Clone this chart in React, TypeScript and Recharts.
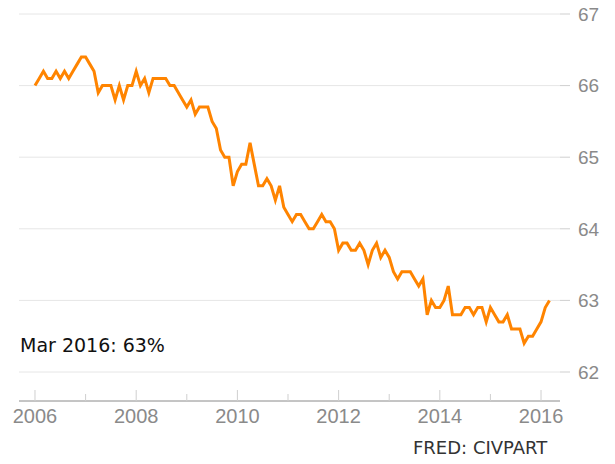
import { CartesianGrid, Line, LineChart, XAxis, YAxis, ReferenceLine } from "recharts";
import { FunctionComponent } from 'react';

// CIVPART, monthly, Jan 2006 .. Mar 2016
const startYear = 2006;
const values = [
  66.0, 66.1, 66.2, 66.1, 66.1, 66.2, 66.1, 66.2, 66.1, 66.2, 66.3, 66.4,
  66.4, 66.3, 66.2, 65.9, 66.0, 66.0, 66.0, 65.8, 66.0, 65.8, 66.0, 66.0,
  66.2, 66.0, 66.1, 65.9, 66.1, 66.1, 66.1, 66.1, 66.0, 66.0, 65.9, 65.8,
  65.7, 65.8, 65.6, 65.7, 65.7, 65.7, 65.5, 65.4, 65.1, 65.0, 65.0, 64.6,
  64.8, 64.9, 64.9, 65.2, 64.9, 64.6, 64.6, 64.7, 64.6, 64.4, 64.6, 64.3,
  64.2, 64.1, 64.2, 64.2, 64.1, 64.0, 64.0, 64.1, 64.2, 64.1, 64.1, 64.0,
  63.7, 63.8, 63.8, 63.7, 63.7, 63.8, 63.7, 63.5, 63.7, 63.8, 63.6, 63.7,
  63.6, 63.4, 63.3, 63.4, 63.4, 63.4, 63.3, 63.2, 63.3, 62.8, 63.0, 62.9,
  62.9, 63.0, 63.2, 62.8, 62.8, 62.8, 62.9, 62.9, 62.8, 62.9, 62.9, 62.7,
  62.9, 62.8, 62.7, 62.7, 62.8, 62.6, 62.6, 62.6, 62.4, 62.5, 62.5, 62.6,
  62.7, 62.9, 63.0,
];
const yearTicks = [2006, 2007, 2008, 2009, 2010, 2011, 2012, 2013, 2014, 2015, 2016];
const valueTicks = [62, 63, 64, 65, 66, 67];

const data = values.map((v, i) => ({ date: startYear + i / 12, rate: v }));

const YearTick: FunctionComponent<any> = (props: any) => {
  const { x, y, payload } = props;
  const major = payload.value % 2 === 0;
  return (
    <g transform={`translate(${x},${y})`}>
      <line x1={0} x2={0} y1={0} y2={major ? -11 : -7} stroke="#cfcfcf" strokeWidth={1} />
      {major && (
        <text x={0} y={15} dy="0.35em" textAnchor="middle" fill="#8a8a8a"
          fontSize={20} fontFamily="'Liberation Sans Narrow', 'Liberation Sans', sans-serif">
          {payload.value}
        </text>
      )}
    </g>
  );
};

export default function App() {
  return (
    <div style={{ position: 'relative', width: 615, height: 464, margin: -8 }}>
      <LineChart width={615} height={464} data={data}
        margin={{ top: 14, right: 10, left: 19, bottom: 33 }}>
        <CartesianGrid vertical={false} stroke="#e6e6e6" horizontalValues={valueTicks} />
        <XAxis dataKey="date" type="number" domain={[2005.684, 2016.375]} ticks={yearTicks}
          tick={<YearTick />} tickLine={false} axisLine={false} tickSize={0} tickMargin={0}
          height={30} interval={0} allowDataOverflow />
        <YAxis orientation="right" domain={[61.595, 67]} ticks={valueTicks} interval={0}
          width={45} axisLine={false} tickSize={10} tickMargin={8} allowDataOverflow
          tickLine={{ stroke: '#cfcfcf' }}
          tick={{ fill: '#8a8a8a', fontSize: 19, fontFamily: "'Liberation Sans', sans-serif", textAnchor: 'start' }} />
        <ReferenceLine y={61.595} stroke="#8a8a8a" strokeWidth={1} />
        <Line type="linear" dataKey="rate" stroke="#ff8400" strokeWidth={3} dot={false}
          isAnimationActive={false} strokeLinejoin="miter" />
      </LineChart>
      <div style={{ position: 'absolute', left: 20, top: 332, fontSize: 19, color: '#111',
        fontFamily: "'DejaVu Sans', sans-serif", lineHeight: '26px', whiteSpace: 'nowrap' }}>
        Mar 2016: 63%
      </div>
      <div style={{ position: 'absolute', left: 413, top: 436, fontSize: 18, color: '#333',
        fontFamily: "'DejaVu Sans', sans-serif", lineHeight: '24px', whiteSpace: 'nowrap' }}>
        FRED: CIVPART
      </div>
    </div>
  );
}
